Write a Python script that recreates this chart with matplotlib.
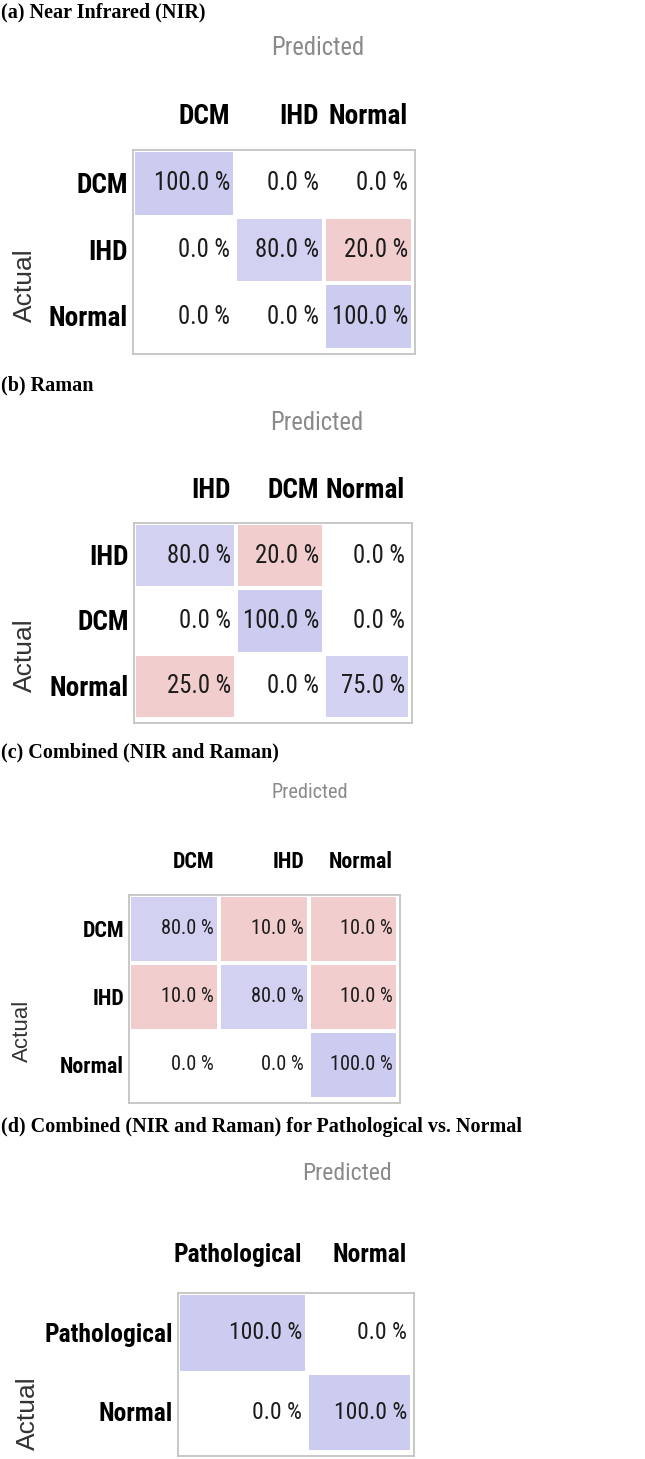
import numpy as np
import matplotlib
matplotlib.use("Agg")
import matplotlib.pyplot as plt
from matplotlib import font_manager
from matplotlib.patches import Rectangle

# Data
# ===================================
nir_labels = ["DCM", "IHD", "Normal"]
nir_values = [[100.0, 0.0, 0.0],
              [0.0, 80.0, 20.0],
              [0.0, 0.0, 100.0]]

raman_labels = ["IHD", "DCM", "Normal"]
raman_values = [[80.0, 20.0, 0.0],
                [0.0, 100.0, 0.0],
                [25.0, 0.0, 75.0]]

comb_labels = ["DCM", "IHD", "Normal"]
comb_values = [[80.0, 10.0, 10.0],
               [10.0, 80.0, 10.0],
               [0.0, 0.0, 100.0]]

path_labels = ["Pathological", "Normal"]
path_values = [[100.0, 0.0],
               [0.0, 100.0]]

titles = ["(a) Near Infrared (NIR)",
          "(b) Raman",
          "(c) Combined (NIR and Raman)",
          "(d) Combined (NIR and Raman) for Pathological vs. Normal"]

W, H = 645, 1459

# pick a condensed face if one exists, else shrink Liberation Sans to the same width
installed = {f.name for f in font_manager.fontManager.ttflist}
NARROW, SCALE = "Liberation Sans", 0.84
for name in ["Liberation Sans Narrow", "Roboto Condensed", "Open Sans Condensed",
             "Noto Sans Condensed", "DejaVu Sans Condensed"]:
    if name in installed:
        NARROW, SCALE = name, 1.0
        break

BLUE = np.array([204, 203, 240]) / 255
RED = np.array([242, 205, 205]) / 255


def cell_color(v, diag):
    if v == 0:
        return "white"
    if diag:
        t = 0.45 + 0.55 * v / 100
        return tuple(1 - t * (1 - BLUE))
    return tuple(RED)


def fx(x):
    return x / W


def fy(y):
    return 1 - y / H


def drawMatrix(fig, labels, values, title, lay):
    L, T, R, B = lay["box"]
    fig.text(0.001, fy(lay["title_y"]), title, family="Liberation Serif", weight="bold",
             fontsize=14.5, ha="left", va="center")
    fig.text(fx(lay["pred"][0]), fy(lay["pred"][1]), "Predicted", family=NARROW,
             fontsize=lay["pred_fs"] * SCALE, color="#8a8a8a", ha="center", va="center")
    fig.text(fx(lay["actual"][0]), fy(lay["actual"][1]), "Actual", family="Liberation Sans",
             fontsize=lay["act_fs"], color="#333333", rotation=90, ha="center", va="center")

    ax = fig.add_axes([fx(L), fy(B), (R - L) / W, (B - T) / H])
    ax.set_xlim(0, R - L)
    ax.set_ylim(B - T, 0)
    ax.set_xticks([])
    ax.set_yticks([])
    for s in ax.spines.values():
        s.set_color("#c4c4c4")
        s.set_linewidth(1.3)

    n = len(labels)
    gap = 4
    inset = 2
    col_w = lay["cols"]
    x_edges = inset + np.concatenate([[0], np.cumsum(col_w)])
    row_h = (B - T - 2 * inset) / n
    for i in range(n):
        y0 = inset + i * row_h
        ax.text(-5, y0 + row_h / 2, labels[i], ha="right", va="center", family=NARROW,
                weight="bold", fontsize=lay["lab_fs"] * SCALE, clip_on=False)
        for j in range(n):
            v = values[i][j]
            ax.add_patch(Rectangle((x_edges[j], y0), col_w[j] - gap, row_h - gap,
                                   facecolor=cell_color(v, i == j), edgecolor="none"))
            ax.text(x_edges[j] + col_w[j] - gap - 3, y0 + (row_h - gap) / 2, f"{v:.1f} %",
                    ha="right", va="center", family=NARROW, fontsize=lay["val_fs"] * SCALE,
                    color="#1c1c1c")
    for j in range(n):
        ax.text(x_edges[j] + col_w[j] - gap - 3, -lay["head_off"], labels[j], ha="right",
                va="center", family=NARROW, weight="bold", fontsize=lay["lab_fs"] * SCALE,
                clip_on=False)


layouts = [
    dict(title_y=12, pred=(318, 48), pred_fs=17.7, actual=(25, 285), act_fs=19,
         box=(133, 150, 415, 354), cols=[102, 89, 89], head_off=33, lab_fs=19.6, val_fs=17.8),
    dict(title_y=385, pred=(317, 423), pred_fs=17.7, actual=(25, 655), act_fs=19,
         box=(134, 523, 412, 723), cols=[102, 88, 86], head_off=33, lab_fs=19.6, val_fs=17.8),
    dict(title_y=752, pred=(310, 792), pred_fs=14.6, actual=(22, 1031), act_fs=16,
         box=(129, 895, 400, 1103), cols=[90, 90, 89], head_off=33, lab_fs=15.8, val_fs=14.7),
    dict(title_y=1127, pred=(347, 1173), pred_fs=17.1, actual=(28, 1413), act_fs=19,
         box=(178, 1293, 414, 1456), cols=[129, 105], head_off=38, lab_fs=18.4, val_fs=17.0),
]

all_labels = [nir_labels, raman_labels, comb_labels, path_labels]
all_values = [nir_values, raman_values, comb_values, path_values]

fig = plt.figure(figsize=(W / 100, H / 100), dpi=100)
for labels, values, title, lay in zip(all_labels, all_values, titles, layouts):
    drawMatrix(fig, labels, values, title, lay)

plt.savefig("out.png", dpi=100)
